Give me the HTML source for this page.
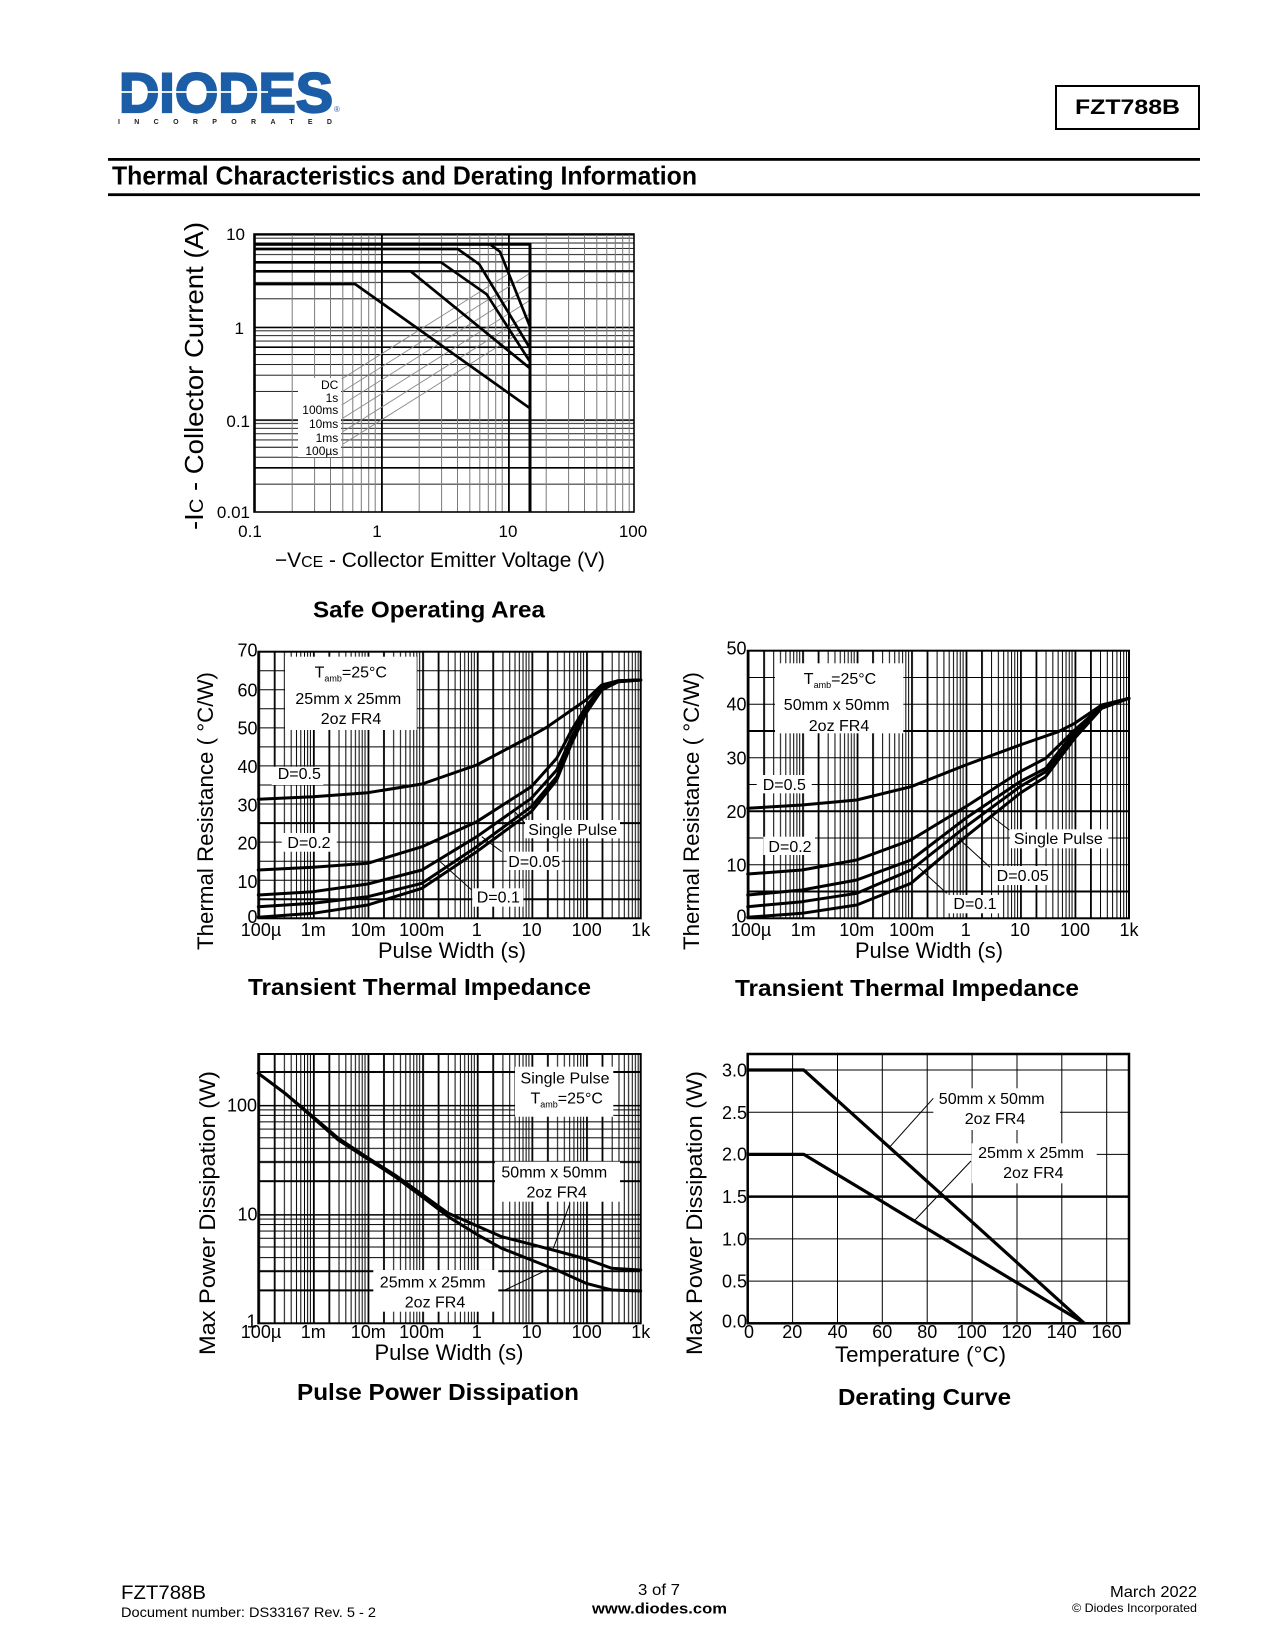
<!DOCTYPE html>
<html><head><meta charset="utf-8"><style>
html,body{margin:0;padding:0;background:#fff;}
svg{display:block;}
text{font-family:"Liberation Sans",Arial,Helvetica,sans-serif;fill:#000;}
</style></head><body>
<svg width="1275" height="1650" viewBox="0 0 1275 1650" xmlns="http://www.w3.org/2000/svg">
<defs>
<pattern id="sv" patternUnits="userSpaceOnUse" x="254" y="0" width="127" height="1650">
<path d="M38.2 0V1650M60.6 0V1650M76.5 0V1650M88.8 0V1650M98.8 0V1650M107.3 0V1650M114.7 0V1650M121.2 0V1650" stroke="#7a7a7a" stroke-width="1"/>
<rect x="0" y="0" width="1.8" height="1650" fill="#000"/>
</pattern>
<pattern id="sh" patternUnits="userSpaceOnUse" x="0" y="512" width="1275" height="92.67">
<path d="M0 64.8H1275M0 48.5H1275M0 37.9H1275M0 27.9H1275M0 20.6H1275M0 14.4H1275M0 9H1275M0 4.2H1275" stroke="#000" stroke-width="0.9"/>
<rect x="0" y="0" width="1275" height="1.6" fill="#000"/>
</pattern>
<pattern id="tv1" patternUnits="userSpaceOnUse" x="258.3" y="0" width="54.63" height="1650">
<rect x="0" y="0" width="1.8" height="1650" fill="#000"/>
<rect x="15.5" y="0" width="1.8" height="1650" fill="#000"/>
<path d="M26.1 0V1650M32.9 0V1650M38.2 0V1650M42.5 0V1650M46.2 0V1650M49.3 0V1650M52.1 0V1650" stroke="#000" stroke-width="1"/>
</pattern>
<pattern id="tv2" patternUnits="userSpaceOnUse" x="747.7" y="0" width="54.47" height="1650">
<rect x="0" y="0" width="1.8" height="1650" fill="#000"/>
<rect x="15.5" y="0" width="1.8" height="1650" fill="#000"/>
<path d="M26 0V1650M32.8 0V1650M38.1 0V1650M42.4 0V1650M46 0V1650M49.2 0V1650M52 0V1650" stroke="#000" stroke-width="1"/>
</pattern>
<pattern id="ph" patternUnits="userSpaceOnUse" x="0" y="1323.3" width="1275" height="109.2">
<rect x="0" y="0" width="1275" height="1.5" fill="#000"/>
<rect x="0" y="56.1" width="1275" height="2" fill="#000"/>
<rect x="0" y="75.3" width="1275" height="2" fill="#000"/>
<path d="M0 43.5H1275M0 32.9H1275M0 24.2H1275M0 16.9H1275M0 10.5H1275M0 5H1275" stroke="#000" stroke-width="1"/>
</pattern>
</defs>

<rect x="0" y="0" width="1275" height="1650" fill="#fff"/>

<!-- Header -->
<text x="119" y="112" font-size="56" font-weight="bold" textLength="214" lengthAdjust="spacingAndGlyphs" style="fill:#1b5da6" stroke="#1b5da6" stroke-width="2.2">DIODES</text>
<line x1="118" y1="92" x2="268" y2="92" stroke="#fff" stroke-width="1.8"/>
<text x="334" y="112" font-size="8" style="fill:#1b5da6">®</text>
<text x="118" y="124" font-size="7" font-weight="bold" textLength="214" style="fill:#222">INCORPORATED</text>

<rect x="1056" y="86" width="143" height="43" fill="none" stroke="#000" stroke-width="2"/>
<text x="1127.5" y="114" font-size="21" font-weight="bold" text-anchor="middle" textLength="105" lengthAdjust="spacingAndGlyphs">FZT788B</text>

<rect x="108" y="158" width="1092" height="2.8" fill="#000"/>
<text x="112" y="184.5" font-size="26" font-weight="bold" textLength="585" lengthAdjust="spacingAndGlyphs">Thermal Characteristics and Derating Information</text>
<rect x="108" y="193.3" width="1092" height="2.8" fill="#000"/>

<!-- ============ SOA ============ -->
<rect x="254" y="234" width="380" height="278" fill="url(#sh)"/>
<rect x="254" y="234" width="380" height="278" fill="url(#sv)"/>
<path d="M254 270.9H634M254 347.2H634M254 467.8H634" stroke="#000" stroke-width="1.6"/>
<rect x="298" y="378" width="43" height="79" fill="#fff"/>
<g stroke="#8a8a8a" stroke-width="0.9">
<line x1="341.7" y1="379" x2="509.3" y2="273.3"/>
<line x1="341.7" y1="392" x2="530" y2="273.3"/>
<line x1="341.7" y1="405" x2="530" y2="286.3"/>
<line x1="342.7" y1="418.3" x2="530" y2="300.3"/>
<line x1="342.7" y1="431.7" x2="530" y2="313.7"/>
<line x1="342.7" y1="444.3" x2="530" y2="326.3"/>
</g>
<g fill="none" stroke="#000" stroke-width="2.7" stroke-linejoin="round">
<polyline points="254,284 355,284 530,408.3"/>
<polyline points="254,271.3 410.7,271.3 530,368.3"/>
<polyline points="254,262.3 441,262.3 486.7,294.3 530,361.7"/>
<polyline points="254,249 457.7,249 479.3,264.3 530,348.3"/>
<polyline points="254,244.3 490,244.3 500,251.7 530,326.7"/>
<polyline points="254,244.3 530,244.3 530,512" stroke-width="3"/>
</g>
<rect x="254" y="234" width="380" height="278" fill="none" stroke="#000" stroke-width="1.6"/>
<g font-size="12" text-anchor="end">
<text x="338.3" y="389">DC</text>
<text x="338.3" y="402">1s</text>
<text x="338.3" y="414">100ms</text>
<text x="338.3" y="428">10ms</text>
<text x="338.3" y="442">1ms</text>
<text x="338.3" y="455">100µs</text>
</g>
<g font-size="17" text-anchor="end">
<text x="245" y="240">10</text>
<text x="244" y="334">1</text>
<text x="250" y="427">0.1</text>
<text x="250" y="518">0.01</text>
</g>
<g font-size="17" text-anchor="middle">
<text x="250" y="537">0.1</text>
<text x="377" y="537">1</text>
<text x="508" y="537">10</text>
<text x="633" y="537">100</text>
</g>
<text x="275" y="567" font-size="21" textLength="330" lengthAdjust="spacingAndGlyphs">−V<tspan font-size="16">CE</tspan> - Collector Emitter Voltage (V)</text>
<text transform="translate(203,376) rotate(-90)" font-size="26" text-anchor="middle" textLength="308" lengthAdjust="spacingAndGlyphs">-I<tspan font-size="19">C</tspan> - Collector Current (A)</text>
<text x="313" y="617.5" font-size="23" font-weight="bold" textLength="232" lengthAdjust="spacingAndGlyphs">Safe Operating Area</text>

<!-- ============ TTI 1 ============ -->
<rect x="258.3" y="651.7" width="382.4" height="266.6" fill="url(#tv1)"/>
<path d="M258.3 880.2H640.7M258.3 861.2H640.7M258.3 842.1H640.7M258.3 804H640.7M258.3 785H640.7M258.3 765.9H640.7M258.3 746.9H640.7M258.3 727.9H640.7M258.3 708.8H640.7M258.3 689.8H640.7M258.3 670.7H640.7" stroke="#000" stroke-width="1"/>
<path d="M258.3 899.3H640.7M258.3 823.1H640.7" stroke="#000" stroke-width="2"/>
<g fill="#fff">
<rect x="285" y="656.7" width="131.7" height="73.3"/>
<rect x="271.7" y="766.7" width="51.6" height="18.3"/>
<rect x="281.7" y="833" width="55" height="18.7"/>
<rect x="525" y="820" width="95" height="18.3"/>
<rect x="506.7" y="851.7" width="55" height="18.3"/>
<rect x="472.3" y="888.3" width="51" height="18.4"/>
</g>
<g fill="none" stroke="#000" stroke-width="3" stroke-linejoin="round" stroke-linecap="round">
<polyline points="258.3,799.3 313,796.7 367.7,792.7 422,784 476.7,765 531.3,736 546.7,727.3 586,700 601.7,685 618.3,680.7 640.7,680"/>
<polyline points="258.3,870 313,867.3 367.7,863.3 422,846.7 476.7,821.7 531.3,786.7 556.7,758.3 571.7,730 586,706.7 601.7,686.7 618.3,680.7 640.7,680"/>
<polyline points="258.3,895 313,891.7 367.7,884 422,870 476.7,836.7 531.3,798.3 556.7,770 571.7,736.7 586,710 601.7,688.3 618.3,681 640.7,680"/>
<polyline points="258.3,906.7 313,903.3 367.7,896.7 422,883.3 476.7,846.7 531.3,806.7 556.7,776.7 571.7,740 586,711.7 601.7,689.3 618.3,681.7 640.7,680"/>
<polyline points="258.3,917.3 313,913.3 367.7,905 422,888.3 476.7,851.7 531.3,811.7 556.7,780 571.7,743.3 586,713.3 601.7,690 618.3,681.7 640.7,680"/>
</g>
<g stroke="#000" stroke-width="1">
<line x1="525" y1="823.3" x2="513.3" y2="810"/>
<line x1="501.7" y1="851.7" x2="481.7" y2="836.7"/>
<line x1="471.7" y1="890" x2="438.3" y2="860"/>
</g>
<rect x="258.3" y="651.7" width="382.4" height="266.6" fill="none" stroke="#000" stroke-width="2"/>
<g font-size="16" text-anchor="middle">
<text x="350.8" y="677.5">T<tspan font-size="9" dy="4">amb</tspan><tspan dy="-4">=25°C</tspan></text>
<text x="348.3" y="704">25mm x 25mm</text>
<text x="351" y="724">2oz FR4</text>
<text x="299.3" y="779">D=0.5</text>
<text x="309" y="848">D=0.2</text>
<text x="572.7" y="835">Single Pulse</text>
<text x="534.3" y="866.8">D=0.05</text>
<text x="498.3" y="902.5">D=0.1</text>
</g>
<g font-size="18" text-anchor="end">
<text x="257.5" y="656.5">70</text>
<text x="257.5" y="696.5">60</text>
<text x="257.5" y="734.5">50</text>
<text x="257.5" y="773">40</text>
<text x="257.5" y="811.5">30</text>
<text x="257.5" y="849.5">20</text>
<text x="257.5" y="888">10</text>
<text x="257.5" y="923">0</text>
</g>
<g font-size="18" text-anchor="middle">
<text x="261" y="936">100µ</text>
<text x="313.3" y="936">1m</text>
<text x="368.3" y="936">10m</text>
<text x="421.7" y="936">100m</text>
<text x="476.7" y="936">1</text>
<text x="531.7" y="936">10</text>
<text x="586.7" y="936">100</text>
<text x="640.7" y="936">1k</text>
</g>
<text x="452" y="958" font-size="22" text-anchor="middle" textLength="148" lengthAdjust="spacingAndGlyphs">Pulse Width (s)</text>
<text transform="translate(213,811) rotate(-90)" font-size="22" text-anchor="middle" textLength="278" lengthAdjust="spacingAndGlyphs">Thermal Resistance ( °C/W)</text>
<text x="248" y="995" font-size="23" font-weight="bold" textLength="343" lengthAdjust="spacingAndGlyphs">Transient Thermal Impedance</text>

<!-- ============ TTI 2 ============ -->
<rect x="747.7" y="650.7" width="381.3" height="267.6" fill="url(#tv2)"/>
<path d="M747.7 864.8H1129M747.7 838H1129M747.7 784.5H1129M747.7 757.7H1129M747.7 704.2H1129M747.7 677.5H1129" stroke="#000" stroke-width="1"/>
<path d="M747.7 891.5H1129M747.7 811.3H1129M747.7 731H1129" stroke="#000" stroke-width="2"/>
<g fill="#fff">
<rect x="775" y="663.3" width="128.3" height="70"/>
<rect x="756.7" y="775" width="55" height="18.3"/>
<rect x="763.3" y="836.7" width="51.7" height="18.3"/>
<rect x="1010" y="829.3" width="98.3" height="19"/>
<rect x="993.3" y="866" width="58.4" height="19"/>
<rect x="948.3" y="895" width="51.7" height="18.3"/>
</g>
<g fill="none" stroke="#000" stroke-width="3" stroke-linejoin="round" stroke-linecap="round">
<polyline points="747.7,808.3 802,805 856.7,800 911,786.7 965.7,765 1020,745 1058.3,731.7 1074.7,723.3 1101.7,705 1129,698.3"/>
<polyline points="747.7,874 802,870 856.7,860 911,840 965.7,806.7 1020,771.7 1045.7,758.3 1074.7,730 1101.7,706 1129,698.3"/>
<polyline points="747.7,895 802,890 856.7,880 911,860 965.7,818.3 1020,781.7 1045.7,768.3 1074.7,731.7 1101.7,706.7 1129,698.3"/>
<polyline points="747.7,906.7 802,901.7 856.7,893.3 911,870 965.7,826.7 1020,786.7 1045.7,771.7 1074.7,735 1101.7,707.3 1129,698.3"/>
<polyline points="747.7,917.3 802,913.3 856.7,905 911,883.3 965.7,836.7 1020,793.3 1045.7,776.7 1074.7,738.3 1101.7,708.3 1129,698.3"/>
</g>
<g stroke="#000" stroke-width="1">
<line x1="1009.3" y1="830" x2="990" y2="815"/>
<line x1="990" y1="867.3" x2="958.3" y2="838.3"/>
<line x1="946.7" y1="893.3" x2="918.3" y2="867.3"/>
</g>
<rect x="747.7" y="650.7" width="381.3" height="267.6" fill="none" stroke="#000" stroke-width="2"/>
<g font-size="16" text-anchor="middle">
<text x="840" y="684">T<tspan font-size="9" dy="4">amb</tspan><tspan dy="-4">=25°C</tspan></text>
<text x="836.7" y="709.8">50mm x 50mm</text>
<text x="839" y="730.8">2oz FR4</text>
<text x="784.3" y="789.8">D=0.5</text>
<text x="790" y="851.8">D=0.2</text>
<text x="1058.3" y="844">Single Pulse</text>
<text x="1022.7" y="880.8">D=0.05</text>
<text x="975" y="909">D=0.1</text>
</g>
<g font-size="18" text-anchor="end">
<text x="746.5" y="654.5">50</text>
<text x="746.5" y="710.5">40</text>
<text x="746.5" y="764.5">30</text>
<text x="746.5" y="818">20</text>
<text x="746.5" y="871.5">10</text>
<text x="746.5" y="922.5">0</text>
</g>
<g font-size="18" text-anchor="middle">
<text x="751" y="936">100µ</text>
<text x="803.3" y="936">1m</text>
<text x="856.7" y="936">10m</text>
<text x="911.7" y="936">100m</text>
<text x="965.7" y="936">1</text>
<text x="1020" y="936">10</text>
<text x="1075" y="936">100</text>
<text x="1129" y="936">1k</text>
</g>
<text x="929" y="958" font-size="22" text-anchor="middle" textLength="148" lengthAdjust="spacingAndGlyphs">Pulse Width (s)</text>
<text transform="translate(699,811) rotate(-90)" font-size="22" text-anchor="middle" textLength="278" lengthAdjust="spacingAndGlyphs">Thermal Resistance ( °C/W)</text>
<text x="735" y="996" font-size="23" font-weight="bold" textLength="344" lengthAdjust="spacingAndGlyphs">Transient Thermal Impedance</text>

<!-- ============ Pulse Power Dissipation ============ -->
<rect x="258.3" y="1054" width="382.4" height="269.3" fill="url(#ph)"/>
<rect x="258.3" y="1054" width="382.4" height="269.3" fill="url(#tv1)"/>
<g fill="#fff">
<rect x="515" y="1066.7" width="98.3" height="50"/>
<rect x="495" y="1161.7" width="125" height="40"/>
<rect x="373.3" y="1270" width="125" height="41.7"/>
</g>
<g fill="none" stroke="#000" stroke-width="3" stroke-linejoin="round" stroke-linecap="round">
<polyline points="258.3,1073.3 285,1093.3 313,1116.7 338.3,1138.3 367.7,1157.7 395,1175 422,1194.3 448.3,1213.3 476.7,1225.7 501.7,1236.7 531.3,1244.3 556.7,1251 586,1259 611.7,1268.3 640.7,1270"/>
<polyline points="258.3,1073.3 285,1093.3 313,1117.7 338.3,1140 367.7,1159 395,1176.7 422,1196.7 448.3,1216.7 476.7,1234.3 501.7,1248.3 531.3,1260 556.7,1270 586,1283.3 611.7,1290 640.7,1291"/>
</g>
<g stroke="#000" stroke-width="1">
<line x1="570" y1="1203.3" x2="553.3" y2="1248.3"/>
<line x1="505" y1="1290" x2="546.7" y2="1270"/>
</g>
<rect x="258.3" y="1054" width="382.4" height="269.3" fill="none" stroke="#000" stroke-width="2"/>
<g font-size="16" text-anchor="middle">
<text x="565" y="1083.5">Single Pulse</text>
<text x="566.7" y="1103.5">T<tspan font-size="9" dy="4">amb</tspan><tspan dy="-4">=25°C</tspan></text>
<text x="554.3" y="1177.5">50mm x 50mm</text>
<text x="556.7" y="1197.5">2oz FR4</text>
<text x="432.7" y="1287.5">25mm x 25mm</text>
<text x="435" y="1307.5">2oz FR4</text>
</g>
<g font-size="18" text-anchor="end">
<text x="257" y="1111.5">100</text>
<text x="257.5" y="1220.5">10</text>
<text x="256.7" y="1327.5">1</text>
</g>
<g font-size="18" text-anchor="middle">
<text x="261" y="1338">100µ</text>
<text x="313.3" y="1338">1m</text>
<text x="368.3" y="1338">10m</text>
<text x="421.7" y="1338">100m</text>
<text x="476.7" y="1338">1</text>
<text x="531.7" y="1338">10</text>
<text x="586.7" y="1338">100</text>
<text x="640.7" y="1338">1k</text>
</g>
<text x="449" y="1360" font-size="22" text-anchor="middle" textLength="149" lengthAdjust="spacingAndGlyphs">Pulse Width (s)</text>
<text transform="translate(215,1213) rotate(-90)" font-size="22" text-anchor="middle" textLength="284" lengthAdjust="spacingAndGlyphs">Max Power Dissipation (W)</text>
<text x="297" y="1400" font-size="23" font-weight="bold" textLength="282" lengthAdjust="spacingAndGlyphs">Pulse Power Dissipation</text>

<!-- ============ Derating ============ -->
<path d="M792.6 1054V1323.3M837.5 1054V1323.3M882.3 1054V1323.3M927.2 1054V1323.3M972.1 1054V1323.3M1017 1054V1323.3M1061.8 1054V1323.3M1106.7 1054V1323.3" stroke="#000" stroke-width="1"/>
<path d="M747.7 1281.1H1129M747.7 1238.9H1129M747.7 1154.4H1129M747.7 1112.2H1129M747.7 1070H1129" stroke="#000" stroke-width="1"/>
<path d="M747.7 1196.6H1129" stroke="#000" stroke-width="2.5"/>
<g fill="#fff">
<rect x="933.3" y="1088.3" width="126.7" height="41.7"/>
<rect x="971.7" y="1143.3" width="125" height="40"/>
</g>
<g fill="none" stroke="#000" stroke-width="3.2" stroke-linejoin="round">
<polyline points="747.7,1070 803.8,1070 1084.3,1323.3"/>
<polyline points="747.7,1154.4 803.8,1154.4 1084.3,1323.3"/>
</g>
<g stroke="#000" stroke-width="1">
<line x1="933.3" y1="1098.3" x2="890" y2="1146.7"/>
<line x1="971" y1="1161" x2="915" y2="1220"/>
</g>
<rect x="747.7" y="1054" width="381.3" height="269.3" fill="none" stroke="#000" stroke-width="2.5"/>
<g font-size="16" text-anchor="middle">
<text x="991.7" y="1104">50mm x 50mm</text>
<text x="995" y="1124">2oz FR4</text>
<text x="1031" y="1158">25mm x 25mm</text>
<text x="1033.3" y="1178">2oz FR4</text>
</g>
<g font-size="18" text-anchor="end">
<text x="747" y="1076.5">3.0</text>
<text x="747" y="1118.8">2.5</text>
<text x="747" y="1160.5">2.0</text>
<text x="747" y="1203.2">1.5</text>
<text x="747" y="1245.5">1.0</text>
<text x="747" y="1287.5">0.5</text>
<text x="747" y="1327.5">0.0</text>
</g>
<g font-size="18" text-anchor="middle">
<text x="749" y="1338">0</text>
<text x="792.3" y="1338">20</text>
<text x="837.7" y="1338">40</text>
<text x="882.3" y="1338">60</text>
<text x="927.3" y="1338">80</text>
<text x="971.7" y="1338">100</text>
<text x="1016.7" y="1338">120</text>
<text x="1061.7" y="1338">140</text>
<text x="1106.7" y="1338">160</text>
</g>
<text x="920.5" y="1362" font-size="22" text-anchor="middle" textLength="171" lengthAdjust="spacingAndGlyphs">Temperature (°C)</text>
<text transform="translate(702,1213) rotate(-90)" font-size="22" text-anchor="middle" textLength="284" lengthAdjust="spacingAndGlyphs">Max Power Dissipation (W)</text>
<text x="838" y="1405" font-size="23" font-weight="bold" textLength="173" lengthAdjust="spacingAndGlyphs">Derating Curve</text>

<!-- Footer -->
<text x="121" y="1599" font-size="19" textLength="85" lengthAdjust="spacingAndGlyphs">FZT788B</text>
<text x="121" y="1617" font-size="14" textLength="255" lengthAdjust="spacingAndGlyphs">Document number: DS33167 Rev. 5 - 2</text>
<text x="659" y="1595" font-size="16" text-anchor="middle" textLength="42" lengthAdjust="spacingAndGlyphs">3 of 7</text>
<text x="659.5" y="1613.5" font-size="15" font-weight="bold" text-anchor="middle" textLength="135" lengthAdjust="spacingAndGlyphs">www.diodes.com</text>
<text x="1197" y="1597" font-size="16" text-anchor="end" textLength="87" lengthAdjust="spacingAndGlyphs">March 2022</text>
<text x="1197" y="1612" font-size="12" text-anchor="end" textLength="125" lengthAdjust="spacingAndGlyphs">© Diodes Incorporated</text>
</svg>
</body></html>
